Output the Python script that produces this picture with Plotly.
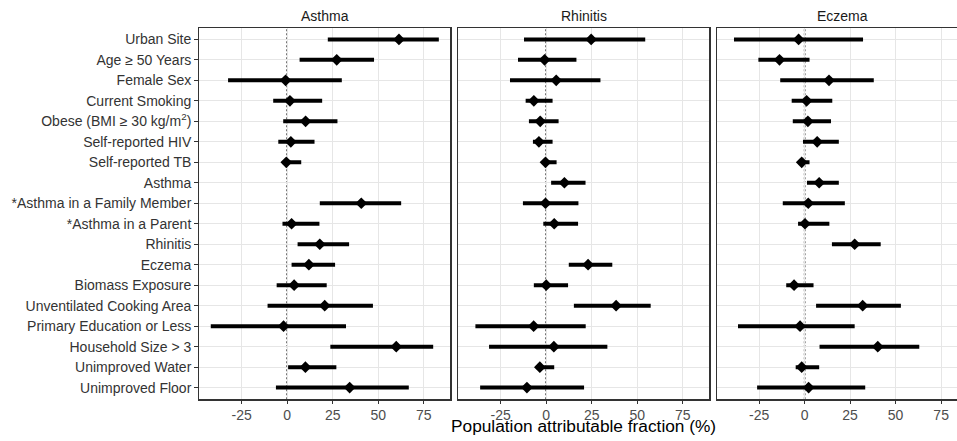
import plotly.graph_objects as go

factors = [
    "Urban Site", "Age ≥ 50 Years", "Female Sex", "Current Smoking",
    "Obese (BMI ≥ 30 kg/m<sup>2</sup>)", "Self-reported HIV", "Self-reported TB",
    "Asthma", "*Asthma in a Family Member", "*Asthma in a Parent", "Rhinitis",
    "Eczema", "Biomass Exposure", "Unventilated Cooking Area",
    "Primary Education or Less", "Household Size > 3", "Unimproved Water",
    "Unimproved Floor",
]
outcomes = ["Asthma", "Rhinitis", "Eczema"]

asthma_paf = [61.4, 27.2, -0.9, 1.5, 10.1, 2.0, -0.5, None, 40.7, 2.4, 17.9, 11.9, 3.8, 20.6, -2.0, 59.9, 10.0, 34.3]
asthma_lo = [22.3, 6.8, -32.5, -7.7, -2.2, -4.9, -2.4, None, 17.9, -2.6, 5.7, 2.4, -5.8, -10.8, -42.0, 23.7, 0.5, -6.2]
asthma_hi = [83.3, 47.7, 30.0, 19.2, 27.6, 15.0, 7.7, None, 62.6, 17.7, 34.0, 26.3, 21.7, 47.1, 32.3, 80.2, 27.0, 66.8]

rhinitis_paf = [24.7, -0.9, 5.5, -6.8, -3.3, -4.0, -0.4, 10.0, -0.4, 4.4, None, 23.0, 0.0, 38.4, -6.9, 4.2, -3.5, -10.6]
rhinitis_lo = [-12.2, -15.5, -19.9, -11.3, -9.5, -7.3, -1.8, 2.7, -12.8, -1.6, None, 12.4, -6.8, 15.2, -38.9, -31.4, -5.5, -36.3]
rhinitis_hi = [54.4, 16.6, 29.8, 3.5, 6.8, 3.5, 5.7, 21.6, 17.7, 17.5, None, 36.3, 12.0, 57.4, 21.7, 33.6, 4.4, 20.8]

eczema_paf = [-3.3, -13.8, 13.4, 1.1, 1.8, 6.9, -1.6, 8.0, 2.0, 0.2, 27.5, None, -5.8, 31.9, -2.5, 40.2, -1.6, 2.2]
eczema_lo = [-38.8, -25.4, -13.4, -7.1, -6.5, -0.9, -3.3, 1.3, -12.0, -3.6, 15.0, None, -10.1, 6.3, -36.6, 8.2, -4.9, -26.1]
eczema_hi = [32.1, 2.7, 38.0, 15.2, 14.5, 18.8, 2.7, 18.8, 22.1, 13.6, 41.8, None, 4.9, 52.9, 27.5, 63.0, 8.0, 33.3]

x_ticks = [-25, 0, 25, 50, 75]
x_title = "Population attributable fraction (%)"

series = [
    (asthma_paf, asthma_lo, asthma_hi),
    (rhinitis_paf, rhinitis_lo, rhinitis_hi),
    (eczema_paf, eczema_lo, eczema_hi),
]

W, H = 957, 441
FONT = "Liberation Sans, Arial, sans-serif"
x_domains = [
    [199.3 / W, 450.3 / W],
    [458.3 / W, 709.3 / W],
    [716.7 / W, 1.0],
]
y_domain = [1 - 399.3 / H, 1 - 27.7 / H]
px_per_unit = 251.0 / 137.9
x_lo = -48.3
x_ranges = [
    [x_lo, 89.6],
    [x_lo, 89.6],
    [x_lo, x_lo + (W - 716.7) / px_per_unit],
]

fig = go.Figure()

for i, (paf, lo, hi) in enumerate(series):
    xs, ys, ep, em = [], [], [], []
    for f, p, l, h in zip(factors, paf, lo, hi):
        if p is None:
            continue
        xs.append(p)
        ys.append(f)
        ep.append(h - p)
        em.append(p - l)
    suffix = "" if i == 0 else str(i + 1)
    fig.add_trace(go.Scatter(
        x=xs, y=ys, mode="markers",
        marker=dict(symbol="diamond", size=9, color="black", line=dict(width=0)),
        error_x=dict(type="data", symmetric=False, array=ep, arrayminus=em,
                     thickness=4, width=0, color="black"),
        xaxis="x" + suffix, yaxis="y" + suffix, showlegend=False,
        hoverinfo="skip",
    ))

layout = dict(
    width=W, height=H,
    autosize=False,
    margin=dict(l=0, r=0, t=0, b=0, pad=0, autoexpand=False),
    paper_bgcolor="white", plot_bgcolor="white",
    font=dict(family=FONT, size=14, color="#4D4D4D"),
    showlegend=False,
)

n = len(factors)
for i in range(3):
    suffix = "" if i == 0 else str(i + 1)
    layout["xaxis" + suffix] = dict(
        domain=x_domains[i], range=x_ranges[i], anchor="y" + suffix,
        tickvals=x_ticks, ticktext=[str(t) for t in x_ticks],
        showgrid=True, gridcolor="#E6E6E6", gridwidth=1, zeroline=False,
        showline=True, linecolor="#333333", linewidth=1.2, mirror=True,
        ticks="outside", ticklen=3, tickcolor="#333333", tickwidth=1,
        tickfont=dict(family=FONT, size=14, color="#4D4D4D"),
        automargin=False, fixedrange=True,
    )
    layout["yaxis" + suffix] = dict(
        domain=y_domain, anchor="x" + suffix,
        type="category", categoryorder="array", categoryarray=factors,
        range=[n - 1 + 0.57, -0.57],
        showgrid=True, gridcolor="#E6E6E6", gridwidth=1, zeroline=False,
        showline=True, linecolor="#333333", linewidth=1.2,
        mirror=(i < 2),
        ticks="outside" if i == 0 else "", ticklen=4, tickcolor="#333333", tickwidth=1,
        showticklabels=(i == 0),
        tickfont=dict(family=FONT, size=14, color="#333333"),
        automargin=False, fixedrange=True,
    )

shapes = []
annotations = []
for i in range(3):
    suffix = "" if i == 0 else str(i + 1)
    shapes.append(dict(
        type="line", xref="x" + suffix, yref="paper",
        x0=0, x1=0, y0=y_domain[0], y1=y_domain[1], layer="below",
        line=dict(color="black", width=1.5, dash="2px,2px"),
    ))
    panel_w = x_domains[0][1] - x_domains[0][0]
    annotations.append(dict(
        text=outcomes[i], xref="paper", yref="paper",
        x=x_domains[i][0] + panel_w / 2,
        y=1 - 15.5 / H, xanchor="center", yanchor="middle", showarrow=False,
        font=dict(family=FONT, size=14, color="#1A1A1A"),
    ))

annotations.append(dict(
    text=x_title, xref="paper", yref="paper",
    x=583.5 / W, y=1 - 425.5 / H, xanchor="center", yanchor="middle",
    showarrow=False, font=dict(family=FONT, size=17.3, color="black"),
))

layout["shapes"] = shapes
layout["annotations"] = annotations
fig.update_layout(**layout)

fig.write_html(
    "out.html",
    config={"displayModeBar": False, "staticPlot": True},
    post_script="document.body.style.margin='0';document.body.style.overflow='hidden';",
)
